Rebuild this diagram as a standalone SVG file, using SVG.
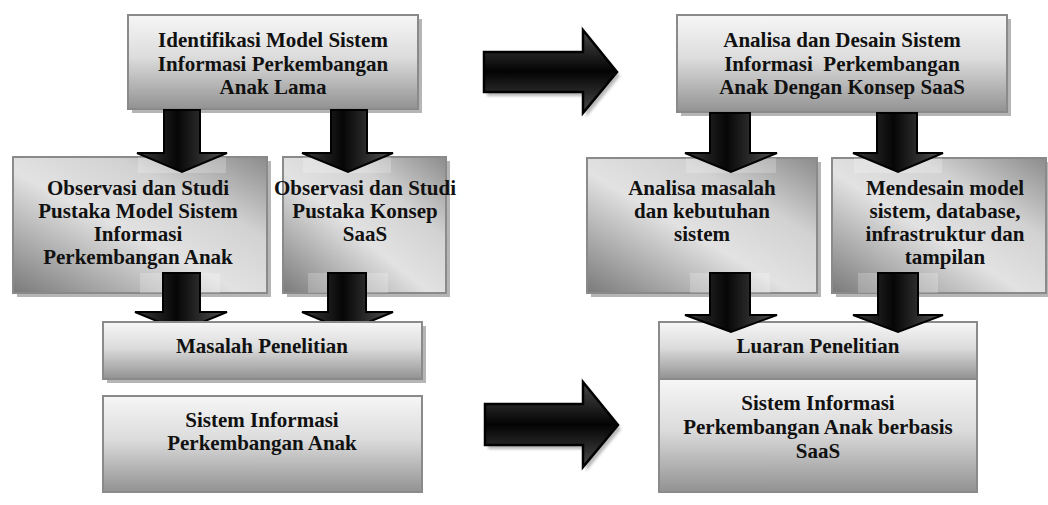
<svg xmlns="http://www.w3.org/2000/svg" width="1048" height="505" viewBox="0 0 1048 505">
<defs>
<linearGradient id="gV" x1="0" y1="0" x2="0" y2="1">
<stop offset="0" stop-color="#f6f6f6"/><stop offset="0.45" stop-color="#dcdcdc"/><stop offset="1" stop-color="#929292"/>
</linearGradient>
<linearGradient id="gD" x1="0" y1="1" x2="1" y2="0">
<stop offset="0" stop-color="#7a7a7a"/><stop offset="0.45" stop-color="#e2e2e2"/><stop offset="0.7" stop-color="#d2d2d2"/><stop offset="1" stop-color="#8c8c8c"/>
</linearGradient>
<linearGradient id="aDown" x1="0" y1="0" x2="1" y2="0">
<stop offset="0" stop-color="#3c3c3c"/><stop offset="0.45" stop-color="#060606"/><stop offset="1" stop-color="#555"/>
</linearGradient>
<linearGradient id="aRight" x1="0" y1="0" x2="0" y2="1">
<stop offset="0" stop-color="#4a4a4a"/><stop offset="0.5" stop-color="#030303"/><stop offset="1" stop-color="#4a4a4a"/>
</linearGradient>
<filter id="blur" x="-10%" y="-10%" width="130%" height="130%"><feGaussianBlur stdDeviation="1.5"/></filter>
<style>
.box{stroke:#8a8a8a;stroke-width:2}
.sh{fill:#b5b5b5}
.t{font-family:"Liberation Serif","Times New Roman",serif;font-weight:bold;font-size:21px;fill:#111;text-anchor:middle}
.ad{fill:url(#aDown);stroke:#000;stroke-width:2;stroke-linejoin:miter}
.ar{fill:url(#aRight);stroke:#000;stroke-width:2.5;stroke-linejoin:miter}
.ash{fill:#999;opacity:0.7;filter:url(#blur)}
.glow{fill:#fff;opacity:0.22}
</style>
</defs>

<g id="n-identifikasi">
<rect class="sh" x="132" y="19" width="290" height="94"/>
<rect class="box" x="128" y="15" width="290" height="94" fill="url(#gV)"/>
<text class="t" x="273" y="47">Identifikasi Model Sistem</text>
<text class="t" x="273" y="70.5">Informasi Perkembangan</text>
<text class="t" x="273" y="94">Anak Lama</text>
</g>

<g id="n-analisa-desain">
<rect class="sh" x="681" y="19" width="330" height="97"/>
<rect class="box" x="677" y="15" width="330" height="97" fill="url(#gV)"/>
<text class="t" x="842" y="47">Analisa dan Desain Sistem</text>
<text class="t" x="842" y="70.5" xml:space="preserve">Informasi  Perkembangan</text>
<text class="t" x="842" y="94">Anak Dengan Konsep SaaS</text>
</g>

<g id="n-observasi-model">
<rect class="sh" x="17" y="161" width="254" height="136"/>
<rect class="box" x="13" y="157" width="254" height="136" fill="url(#gD)"/>
<text class="t" x="138" y="195">Observasi dan Studi</text>
<text class="t" x="138" y="218">Pustaka Model Sistem</text>
<text class="t" x="138" y="241">Informasi</text>
<text class="t" x="138" y="264">Perkembangan Anak</text>
</g>

<g id="n-observasi-saas">
<rect class="sh" x="287" y="161" width="163" height="136"/>
<rect class="box" x="283" y="157" width="163" height="136" fill="url(#gD)"/>
<text class="t" x="365" y="195">Observasi dan Studi</text>
<text class="t" x="365" y="218">Pustaka Konsep</text>
<text class="t" x="365" y="241">SaaS</text>
</g>

<g id="n-analisa-masalah">
<rect class="sh" x="591" y="162" width="230" height="135"/>
<rect class="box" x="587" y="158" width="230" height="135" fill="url(#gD)"/>
<text class="t" x="702" y="195">Analisa masalah</text>
<text class="t" x="702" y="218">dan kebutuhan</text>
<text class="t" x="702" y="241">sistem</text>
</g>

<g id="n-mendesain">
<rect class="sh" x="836" y="162" width="214" height="135"/>
<rect class="box" x="832" y="158" width="214" height="135" fill="url(#gD)"/>
<text class="t" x="945" y="195">Mendesain model</text>
<text class="t" x="945" y="218">sistem, database,</text>
<text class="t" x="945" y="241">infrastruktur dan</text>
<text class="t" x="945" y="264">tampilan</text>
</g>

<g id="connectors">
<!-- down arrows from top boxes -->
<rect class="glow" x="138" y="157" width="88" height="16"/>
<rect class="glow" x="303" y="157" width="88" height="16"/>
<rect class="glow" x="686" y="158" width="90" height="15"/>
<rect class="glow" x="854" y="158" width="88" height="15"/>
<path class="ad" d="M164 110 H200 V153 H227 L182 172 L137 153 H164 Z"/>
<path class="ad" d="M331 110 H367 V153 H393 L348 172 L302 153 H331 Z"/>
<path class="ad" d="M710 113 H750 V153 H777 L731 172 L685 153 H710 Z"/>
<path class="ad" d="M877 113 H917 V153 H943 L898 172 L853 153 H877 Z"/>
<!-- down arrows from row 2 (left, behind Masalah box) -->
<rect class="glow" x="140" y="273" width="80" height="20"/>
<rect class="glow" x="308" y="273" width="80" height="20"/>
<path class="ad" d="M163 273 H200 V312 H227 L181 331 L135 312 H163 Z"/>
<path class="ad" d="M328 273 H366 V312 H393 L347 331 L302 312 H328 Z"/>
<!-- horizontal arrows -->
<path class="ash" d="M487 56 H586 V34 L620 76 L586 117 V96 H487 Z"/>
<path class="ar" d="M484 52 H583 V30 L617 72 L583 113 V92 H484 Z"/>
<path class="ash" d="M488 408 H586 V386 L621 429 L586 471 V449 H488 Z"/>
<path class="ar" d="M485 404 H583 V382 L618 425 L583 467 V445 H485 Z"/>
</g>

<g id="n-masalah">
<rect class="sh" x="107" y="326" width="319" height="57"/>
<rect class="box" x="103" y="322" width="319" height="57" fill="url(#gV)"/>
<text class="t" x="262" y="353">Masalah Penelitian</text>
</g>

<g id="n-sistem-lama">
<rect class="box" x="103" y="396" width="319" height="96" fill="url(#gV)"/>
<text class="t" x="262" y="427">Sistem Informasi</text>
<text class="t" x="262" y="450">Perkembangan Anak</text>
</g>

<g id="n-luaran">
<rect class="box" x="659" y="322" width="318" height="57" fill="url(#gV)"/>
<text class="t" x="818" y="353">Luaran Penelitian</text>
</g>

<g id="n-sistem-saas">
<rect class="box" x="659" y="379" width="318" height="113" fill="url(#gV)"/>
<text class="t" x="818" y="410">Sistem Informasi</text>
<text class="t" x="818" y="434">Perkembangan Anak berbasis</text>
<text class="t" x="818" y="458">SaaS</text>
</g>

<g id="connectors-right-bottom">
<rect class="glow" x="690" y="273" width="80" height="20"/>
<rect class="glow" x="858" y="273" width="80" height="20"/>
<path class="ad" d="M710 273 H750 V315 H777 L731 332 L685 315 H710 Z"/>
<path class="ad" d="M878 273 H918 V315 H943 L898 332 L853 315 H878 Z"/>
</g>
</svg>
